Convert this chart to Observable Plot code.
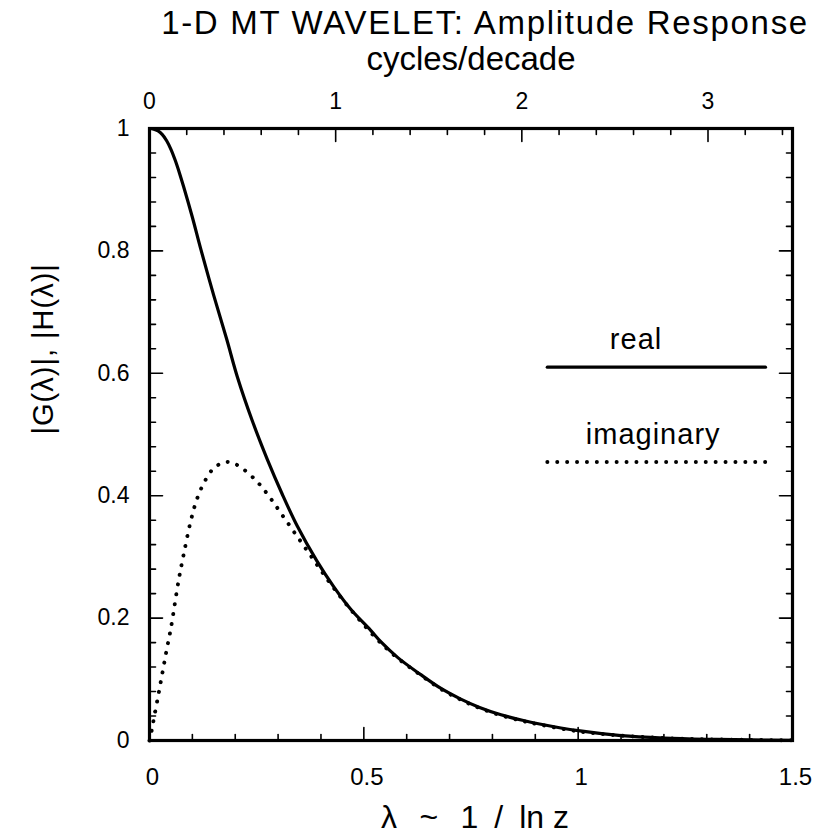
<!DOCTYPE html>
<html>
<head>
<meta charset="utf-8">
<script src="https://cdn.jsdelivr.net/npm/d3@7"></script>
<script src="https://cdn.jsdelivr.net/npm/@observablehq/plot@0.6"></script>
<style>
  html, body { margin: 0; padding: 0; background: #fff; }
  #chart { width: 820px; height: 834px; }
</style>
</head>
<body>
<div id="chart"></div>
<script>
// ---- Data ----
const titleLines = ["1-D MT WAVELET: Amplitude Response", "cycles/decade"];
const xTitle = "λ\u2002\u2009~\u2002\u20091\u2002/\u2002ln z";
const yTitle = "|G(λ)|, |H(λ)|";

// real part amplitude |G(λ)|
const lambdaReal = [0, 0.01, 0.02, 0.03, 0.04, 0.05, 0.06, 0.07, 0.08, 0.1, 0.12, 0.15, 0.18, 0.205, 0.24, 0.275, 0.31, 0.345, 0.39, 0.43, 0.47, 0.516, 0.54, 0.58, 0.632, 0.68, 0.725, 0.77, 0.82, 0.87, 0.91, 1.0, 1.1, 1.2, 1.3, 1.4, 1.5];
const gReal      = [1.0, 0.999, 0.996, 0.990, 0.980, 0.966, 0.948, 0.927, 0.904, 0.855, 0.802, 0.727, 0.656, 0.594, 0.522, 0.459, 0.402, 0.350, 0.294, 0.251, 0.214, 0.180, 0.161, 0.135, 0.108, 0.085, 0.068, 0.054, 0.042, 0.033, 0.027, 0.016, 0.008, 0.004, 0.002, 0.001, 0.0003];

// imaginary part amplitude |H(λ)|
const lambdaImag = [0, 0.005, 0.01, 0.02, 0.03, 0.04, 0.05, 0.068, 0.08, 0.096, 0.11, 0.127, 0.15, 0.177, 0.195, 0.212, 0.251, 0.28, 0.306, 0.333, 0.36, 0.385, 0.407, 0.43, 0.461, 0.5, 0.54, 0.58, 0.632, 0.68, 0.725, 0.77, 0.82, 0.87, 0.91, 1.0, 1.1, 1.2, 1.3, 1.4, 1.5];
const hImag      = [0, 0.016, 0.035, 0.072, 0.110, 0.148, 0.184, 0.262, 0.305, 0.358, 0.393, 0.421, 0.445, 0.455, 0.453, 0.447, 0.423, 0.398, 0.372, 0.345, 0.318, 0.293, 0.271, 0.249, 0.221, 0.189, 0.159, 0.134, 0.107, 0.084, 0.067, 0.053, 0.041, 0.032, 0.026, 0.015, 0.008, 0.004, 0.002, 0.001, 0.0003];

// axes
const xMajorTicks = [0, 0.5, 1, 1.5];
const xMinorTicks = [0.1, 0.2, 0.3, 0.4, 0.6, 0.7, 0.8, 0.9, 1.1, 1.2, 1.3, 1.4];
const yMajorTicks = [0, 0.2, 0.4, 0.6, 0.8, 1];
const yMinorTicks = [0.04, 0.08, 0.12, 0.16, 0.24, 0.28, 0.32, 0.36, 0.44, 0.48, 0.52, 0.56, 0.64, 0.68, 0.72, 0.76, 0.84, 0.88, 0.92, 0.96];
const cdMajorTicks = [0, 1, 2, 3];           // cycles/decade
const cdMinorTicks = [0.2, 0.4, 0.6, 0.8, 1.2, 1.4, 1.6, 1.8, 2.2, 2.4, 2.6, 2.8, 3.2, 3.4];

// legend
const legendLabels = ["real", "imaginary"];
const legendLabelX = [1.135, 1.175];
const legendY = [0.61, 0.455];
const legendX = [0.928, 1.437];

// ---- build ----
const realData = lambdaReal.map((x, i) => ({x, y: gReal[i]}));
const imagData = lambdaImag.map((x, i) => ({x, y: hImag[i]}));
const cdToLambda = c => c / Math.LN10;
const legendRealLine = legendX.map(x => ({x, y: legendY[0]}));
const legendImagLine = legendX.map(x => ({x, y: legendY[1]}));
const legendText = legendLabels.map((t, i) => ({t, x: legendLabelX[i], y: legendY[i]}));

const tickShape = {draw(context, l) { context.moveTo(0, 0); context.lineTo(0, -l); }};
const tickOpts = {anchor: "start", shape: tickShape, stroke: "black", strokeWidth: 1.6};
const fmt = d => String(+(+d).toFixed(2));
const dotted = {stroke: "black", strokeWidth: 3.9, strokeDasharray: "0.1 9.8", strokeLinecap: "round"};

const chart = Plot.plot({
  width: 820,
  height: 834,
  marginLeft: 149,
  marginRight: 28,
  marginTop: 128,
  marginBottom: 94,
  style: {fontFamily: "'Liberation Sans', Arial, Helvetica, sans-serif", fontSize: "23px", background: "#fff", color: "#000"},
  x: {domain: [0, 1.5]},
  y: {domain: [0, 1]},
  marks: [
    // curves
    Plot.line(realData, {x: "x", y: "y", curve: "catmull-rom", stroke: "black", strokeWidth: 3.2}),
    Plot.line(imagData, {x: "x", y: "y", curve: "catmull-rom", ...dotted}),
    // legend
    Plot.line(legendRealLine, {x: "x", y: "y", stroke: "black", strokeWidth: 3.2}),
    Plot.line(legendImagLine, {x: "x", y: "y", ...dotted}),
    Plot.text(legendText, {x: "x", y: "y", text: "t", dy: -27, fontSize: 29, lineAnchor: "middle"}),
    // inward ticks
    Plot.vector(xMajorTicks, {x: d => d, y: 0, rotate: 0, length: 13, ...tickOpts}),
    Plot.vector(xMinorTicks, {x: d => d, y: 0, rotate: 0, length: 6, ...tickOpts}),
    Plot.vector(cdMajorTicks.map(cdToLambda), {x: d => d, y: 1, rotate: 180, length: 13, ...tickOpts}),
    Plot.vector(cdMinorTicks.map(cdToLambda), {x: d => d, y: 1, rotate: 180, length: 6, ...tickOpts}),
    Plot.vector(yMajorTicks, {x: 0, y: d => d, rotate: 90, length: 13, ...tickOpts}),
    Plot.vector(yMinorTicks, {x: 0, y: d => d, rotate: 90, length: 6, ...tickOpts}),
    Plot.vector(yMajorTicks, {x: 1.5, y: d => d, rotate: -90, length: 13, ...tickOpts}),
    Plot.vector(yMinorTicks, {x: 1.5, y: d => d, rotate: -90, length: 6, ...tickOpts}),
    // axis labels
    Plot.axisX(xMajorTicks, {anchor: "bottom", tickSize: 0, tickPadding: 27, dx: 3, tickFormat: fmt, label: null, fontSize: 24}),
    Plot.axisX(cdMajorTicks.map(cdToLambda), {anchor: "top", tickSize: 0, tickPadding: 20, tickFormat: d => String(Math.round(d * Math.LN10)), label: null, fontSize: 23}),
    Plot.axisY(yMajorTicks, {anchor: "left", tickSize: 0, tickPadding: 20, tickFormat: fmt, label: null, fontSize: 23}),
    // frame
    Plot.frame({stroke: "black", strokeWidth: 3.2}),
    // titles
    Plot.text([titleLines[0]], {frameAnchor: "top", dx: 14, dy: -105, fontSize: 33, lineAnchor: "middle"}),
    Plot.text([titleLines[1]], {frameAnchor: "top", dy: -69, fontSize: 33, lineAnchor: "middle"}),
    Plot.text([xTitle], {frameAnchor: "bottom", dx: 4, dy: 77, fontSize: 32, lineAnchor: "middle"}),
    Plot.text([yTitle], {frameAnchor: "left", dx: -106, rotate: -90, fontSize: 29, lineAnchor: "middle"})
  ]
});

// letter spacing for the wide, typeset-looking texts
const spacing = new Map([[titleLines[0], "1.7px"], [yTitle, "1px"], [legendLabels[0], "1px"], [legendLabels[1], "1px"]]);
d3.select(chart).selectAll("text").each(function () {
  const s = spacing.get(this.textContent);
  if (s) this.style.letterSpacing = s;
});
document.getElementById("chart").appendChild(chart);
</script>
</body>
</html>
